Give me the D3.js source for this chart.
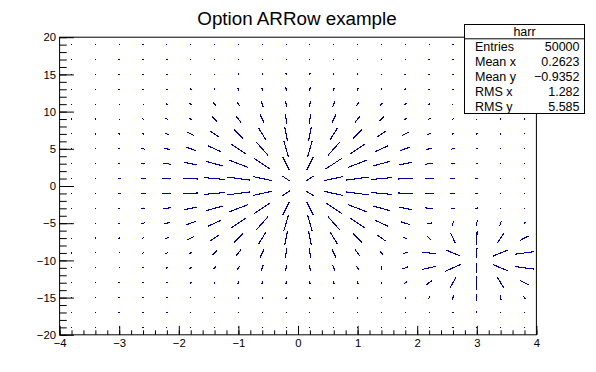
<!DOCTYPE html>
<html><head><meta charset="utf-8">
<script src="https://cdn.jsdelivr.net/npm/d3@7"></script>
<style>
body{margin:0;background:#fff}
svg{display:block}
text{font-family:"Liberation Sans",Arial,Helvetica,sans-serif;fill:#000}
</style>
</head><body>
<svg id="c" width="596" height="372"></svg>
<script>
// ---------------- data ----------------
const title = "Option ARRow example";
const histName = "harr";
const xRange = [-4, 4];
const yRange = [-20, 20];
const xTicks = [-4, -3, -2, -1, 0, 1, 2, 3, 4];
const yTicks = [-20, -15, -10, -5, 0, 5, 10, 15, 20];
const statLabels = ["Entries", "Mean x", "Mean y", "RMS x", "RMS y"];
const statValues = ["50000", "0.2623", "\u22120.9352", "1.282", "5.585"];
// bin contents, 20 x-bins per row; first row = lowest y bin (-20..-18)
const binContents = [
[0,0,0.01,0.02,0.05,0.10,0.19,0.31,0.42,0.49,0.49,0.42,0.31,0.19,0.10,0.06,0.04,0.03,0.02,0.01],
[0,0.01,0.02,0.07,0.19,0.42,0.80,1.28,1.75,2.05,2.05,1.75,1.28,0.81,0.49,0.49,0.83,1.05,0.77,0.30],
[0.01,0.02,0.09,0.26,0.68,1.50,2.81,4.52,6.20,7.26,7.26,6.20,4.53,2.94,2.58,5.62,12.54,16.72,12.30,4.95],
[0.02,0.07,0.26,0.80,2.05,4.52,8.50,13.65,18.72,21.93,21.93,18.72,13.70,9.31,11.38,33.42,78.78,105.87,78.05,31.39],
[0.05,0.19,0.68,2.05,5.29,11.66,21.93,35.21,48.28,56.54,56.54,48.28,35.34,23.97,28.89,84.06,197.89,265.90,196.03,78.82],
[0.10,0.42,1.50,4.52,11.66,25.68,48.29,77.55,106.34,124.53,124.53,106.34,77.68,50.33,42.91,90.43,200.36,266.72,196.26,78.87],
[0.19,0.80,2.81,8.50,21.93,48.29,90.81,145.84,199.98,234.18,234.18,199.98,145.89,91.62,55.15,53.30,86.48,108.42,78.78,31.56],
[0.31,1.28,4.52,13.65,35.21,77.55,145.84,234.21,321.15,376.07,376.07,321.15,234.22,145.97,78.63,40.15,25.93,21.15,13.56,5.25],
[0.42,1.75,6.20,18.72,48.28,106.34,199.98,321.15,440.36,515.68,515.68,440.36,321.15,199.99,106.41,48.58,19.48,7.23,2.51,0.72],
[0.49,2.05,7.26,21.93,56.54,124.53,234.18,376.07,515.68,603.89,603.89,515.68,376.07,234.18,124.53,56.55,21.95,7.28,2.07,0.50],
[0.49,2.05,7.26,21.93,56.54,124.53,234.18,376.07,515.68,603.89,603.89,515.68,376.07,234.18,124.53,56.54,21.93,7.26,2.05,0.49],
[0.42,1.75,6.20,18.72,48.28,106.34,199.98,321.15,440.36,515.68,515.68,440.36,321.15,199.98,106.34,48.28,18.72,6.20,1.75,0.42],
[0.31,1.28,4.52,13.65,35.21,77.55,145.84,234.21,321.15,376.07,376.07,321.15,234.21,145.84,77.55,35.21,13.65,4.52,1.28,0.31],
[0.19,0.80,2.81,8.50,21.93,48.29,90.81,145.84,199.98,234.18,234.18,199.98,145.84,90.81,48.29,21.93,8.50,2.81,0.80,0.19],
[0.10,0.42,1.50,4.52,11.66,25.68,48.29,77.55,106.34,124.53,124.53,106.34,77.55,48.29,25.68,11.66,4.52,1.50,0.42,0.10],
[0.05,0.19,0.68,2.05,5.29,11.66,21.93,35.21,48.28,56.54,56.54,48.28,35.21,21.93,11.66,5.29,2.05,0.68,0.19,0.05],
[0.02,0.07,0.26,0.80,2.05,4.52,8.50,13.65,18.72,21.93,21.93,18.72,13.65,8.50,4.52,2.05,0.80,0.26,0.07,0.02],
[0.01,0.02,0.09,0.26,0.68,1.50,2.81,4.52,6.20,7.26,7.26,6.20,4.52,2.81,1.50,0.68,0.26,0.09,0.02,0.01],
[0,0.01,0.02,0.07,0.19,0.42,0.80,1.28,1.75,2.05,2.05,1.75,1.28,0.80,0.42,0.19,0.07,0.02,0.01,0],
[0,0,0.01,0.02,0.05,0.10,0.19,0.31,0.42,0.49,0.49,0.42,0.31,0.19,0.10,0.05,0.02,0.01,0,0]
];

// ---------------- layout ----------------
const W = 596, H = 372;
const mL = 0.1 * W, mR = 0.1 * W, mT = 0.1 * H, mB = 0.1 * H;
const arrowColor = "#000099";
const svg = d3.select("#c");

const x = d3.scaleLinear().domain(xRange).range([mL, W - mR]);
const y = d3.scaleLinear().domain(yRange).range([H - mB, mT]);

// ---------------- arrows (ROOT "ARR" algorithm) ----------------
const ny = binContents.length, nx = binContents[0].length;
const C = (i, j) => binContents[j][i];
const cells = [];
for (let j = 0; j < ny; j++) {
  for (let i = 0; i < nx; i++) {
    let dx, dy;
    if (i === 0) dx = C(1, j) - C(0, j);
    else if (i === nx - 1) dx = C(i, j) - C(i - 1, j);
    else dx = 0.5 * (C(i + 1, j) - C(i - 1, j));
    if (j === 0) dy = C(i, 1) - C(i, 0);
    else if (j === ny - 1) dy = C(i, j) - C(i, j - 1);
    else dy = 0.5 * (C(i, j + 1) - C(i, j - 1));
    cells.push({i, j, dx, dy});
  }
}
const dn = d3.max(cells, c => Math.max(Math.abs(c.dx), Math.abs(c.dy))) || 1e-30;
const xln = xRange[1] - xRange[0], yln = yRange[1] - yRange[0];
const cx = (xln / nx - 0.03) / 2, cy = (yln / ny - 0.03) / 2;
cells.forEach(c => {
  const xc = xRange[0] + xln * (c.i + 0.5) / nx;
  const yc = yRange[0] + yln * (c.j + 0.5) / ny;
  const dxn = cx * c.dx / dn, dyn = cy * c.dy / dn;
  c.x1 = x(xc - dxn); c.x2 = x(xc + dxn);
  c.y1 = y(yc - dyn); c.y2 = y(yc + dyn);
  c.len = Math.hypot(c.x2 - c.x1, c.y2 - c.y1);
});

const ga = svg.append("g").attr("stroke", arrowColor).attr("fill", arrowColor);
ga.selectAll("line.arr").data(cells).join("line")
  .attr("class", "arr")
  .attr("x1", d => d.x1).attr("y1", d => d.y1)
  .attr("x2", d => d.x2).attr("y2", d => d.y2)
  .attr("stroke-width", 1.1)
  .attr("stroke-linecap", "square")
  .attr("shape-rendering", "crispEdges");
// tiny arrow heads
ga.selectAll("path.head").data(cells.filter(d => d.len > 2)).join("path")
  .attr("class", "head")
  .attr("stroke", "none")
  .attr("d", d => {
    const ux = (d.x2 - d.x1) / d.len, uy = (d.y2 - d.y1) / d.len;
    const hl = 1.6, hw = 0.6;
    const bx = d.x2 - ux * hl, by = d.y2 - uy * hl;
    return `M${d.x2},${d.y2}L${bx - uy * hw},${by + ux * hw}L${bx + uy * hw},${by - ux * hw}Z`;
  });

// ---------------- frame & axes ----------------
svg.append("rect")
  .attr("x", x(xRange[0])).attr("y", y(yRange[1]))
  .attr("width", x(xRange[1]) - x(xRange[0]))
  .attr("height", y(yRange[0]) - y(yRange[1]))
  .attr("fill", "none").attr("stroke", "#000").attr("stroke-width", 1);

const fmt = d3.format("d");
const frameH = y(yRange[0]) - y(yRange[1]);
const frameW = x(xRange[1]) - x(xRange[0]);

const gx = svg.append("g").attr("transform", `translate(0,${y(yRange[0])})`);
gx.call(d3.axisBottom(x).tickValues(d3.range(-4, 4.0001, 0.2)).tickSizeInner(-0.015 * frameH).tickSizeOuter(0).tickFormat(""));
gx.append("g").call(d3.axisBottom(x).tickValues(xTicks).tickSizeInner(-0.03 * frameH).tickSizeOuter(0).tickPadding(4.2).tickFormat(fmt));

const gy = svg.append("g").attr("transform", `translate(${x(xRange[0])},0)`);
gy.call(d3.axisLeft(y).tickValues(d3.range(-20, 20.0001, 1)).tickSizeInner(-0.015 * frameW).tickSizeOuter(0).tickFormat(""));
gy.append("g").call(d3.axisLeft(y).tickValues(yTicks).tickSizeInner(-0.03 * frameW).tickSizeOuter(0).tickPadding(3.6).tickFormat(fmt));

svg.selectAll(".domain").remove();
svg.selectAll(".tick line").attr("stroke", "#000").attr("stroke-width", 1);
svg.selectAll(".tick text").attr("font-size", 11.3).attr("font-family", "Liberation Sans, Arial, sans-serif").attr("fill", "#000");

// ---------------- title ----------------
svg.append("text").attr("x", 297).attr("y", 25)
  .attr("text-anchor", "middle").attr("font-size", 18.8).text(title);

// ---------------- stats box ----------------
const sb = {x: 464.5, y: 24.5, w: 120, h: 89, head: 14.3};
const gs = svg.append("g");
gs.append("rect").attr("x", sb.x).attr("y", sb.y).attr("width", sb.w).attr("height", sb.h)
  .attr("fill", "#fff").attr("stroke", "#000").attr("stroke-width", 1);
gs.append("line").attr("x1", sb.x).attr("x2", sb.x + sb.w).attr("y1", sb.y + sb.head).attr("y2", sb.y + sb.head)
  .attr("stroke", "#000");
gs.append("text").attr("x", sb.x + sb.w / 2).attr("y", sb.y + 11.6).attr("text-anchor", "middle")
  .attr("font-size", 12.5).text(histName);
const rowH = (sb.h - sb.head) / statLabels.length;
statLabels.forEach((lab, k) => {
  const by = sb.y + sb.head + rowH * k + rowH / 2 + 4.6;
  gs.append("text").attr("x", sb.x + 10.5).attr("y", by).attr("font-size", 12.5).text(lab);
  gs.append("text").attr("x", sb.x + sb.w - 5).attr("y", by).attr("text-anchor", "end").attr("font-size", 12.5).text(statValues[k]);
});
</script>
</body></html>
